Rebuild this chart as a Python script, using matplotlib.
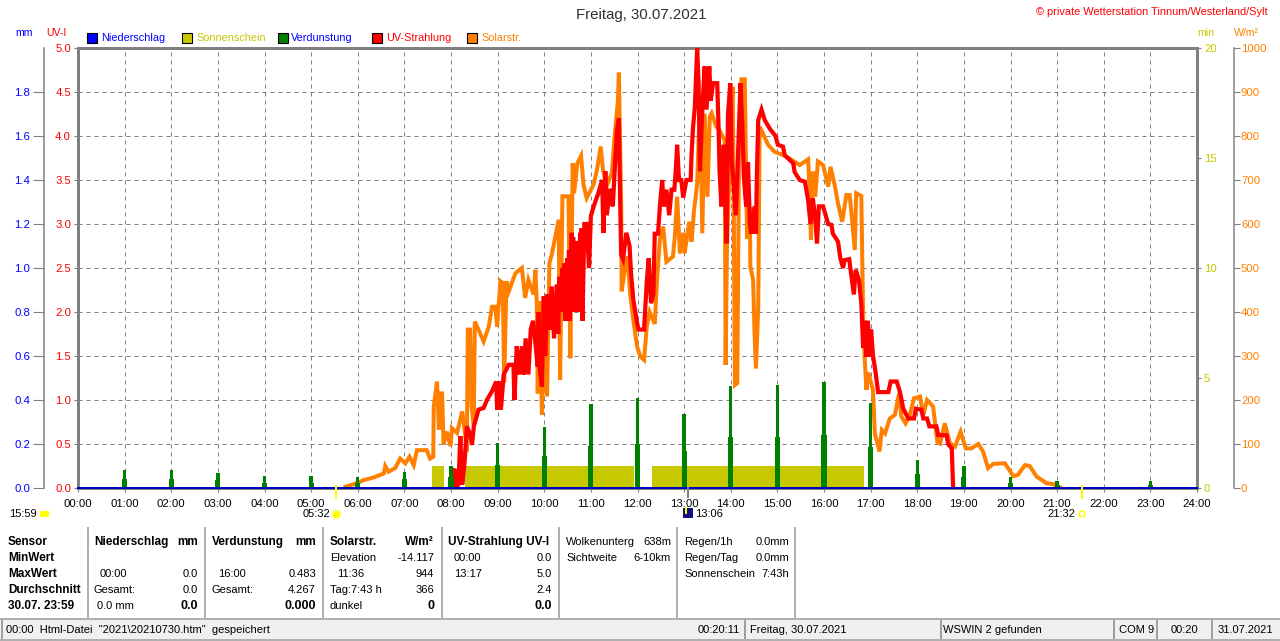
#!/usr/bin/env python
"""Wetterstation Tagesgrafik 30.07.2021"""

import matplotlib
matplotlib.use('Agg')
import matplotlib.pyplot as plt
from matplotlib.patches import Rectangle

plt.rcParams['font.family'] = ['Liberation Sans', 'DejaVu Sans']
plt.rcParams['font.size'] = 8

# time in decimal hours
solar_h = [5.74, 5.95, 6.13, 6.34, 6.56, 6.59, 6.66, 6.80, 6.91, 7.02, 7.11, 7.20, 7.27, 7.48, 7.55, 7.62,
           7.63, 7.70, 7.74, 7.77, 7.81, 7.84, 7.91, 7.99, 8.02, 8.13, 8.24, 8.29, 8.34, 8.36, 8.41, 8.44,
           8.49, 8.51, 8.56, 8.70, 8.81, 8.88, 8.95, 8.99, 9.06, 9.11, 9.14, 9.19, 9.24, 9.38, 9.52, 9.59,
           9.66, 9.77, 9.81, 9.84, 9.86, 9.90, 9.95, 9.99, 10.06, 10.11, 10.16, 10.24, 10.31, 10.34, 10.39,
           10.52, 10.56, 10.61, 10.64, 10.71, 10.79, 10.84, 10.91, 11.06, 11.13, 11.21, 11.26, 11.34, 11.45,
           11.51, 11.58, 11.60, 11.65, 11.66, 11.74, 11.79, 11.84, 11.91, 11.99, 12.06, 12.14, 12.20, 12.26,
           12.37, 12.42, 12.48, 12.55, 12.62, 12.76, 12.80, 12.85, 12.91, 12.98, 13.01, 13.11, 13.16, 13.21,
           13.28, 13.34, 13.39, 13.44, 13.50, 13.55, 13.59, 13.69, 13.76, 13.87, 13.89, 13.92, 13.98, 14.04,
           14.06, 14.09, 14.14, 14.18, 14.23, 14.30, 14.34, 14.35, 14.41, 14.42, 14.48, 14.51, 14.54, 14.59,
           14.62, 14.69, 14.80, 14.94, 15.12, 15.26, 15.48, 15.66, 15.69, 15.72, 15.76, 15.81, 15.87, 15.98,
           16.09, 16.14, 16.23, 16.30, 16.39, 16.48, 16.55, 16.59, 16.66, 16.69, 16.80, 16.82, 16.84, 16.87,
           16.91, 16.95, 17.05, 17.09, 17.19, 17.24, 17.31, 17.41, 17.52, 17.61, 17.66, 17.75, 17.84, 17.93,
           18.06, 18.13, 18.21, 18.34, 18.43, 18.49, 18.59, 18.70, 18.81, 18.93, 19.04, 19.16, 19.31, 19.41,
           19.52, 19.63, 19.88, 20.06, 20.16, 20.31, 20.41, 20.56, 20.77, 20.91, 21.09]
solar_w = [3, 10, 18, 24, 33, 50, 37, 45, 67, 56, 71, 52, 86, 86, 67, 71,
           185, 242, 133, 215, 215, 99, 128, 95, 136, 125, 174, 133, 83, 360, 360, 185,
           140, 378, 367, 333, 367, 412, 412, 367, 470, 466, 240, 470, 447, 488, 500, 432,
           473, 440, 496, 420, 215, 424, 167, 340, 208, 511, 530, 572, 610, 246, 663,
           663, 295, 738, 670, 738, 755, 690, 659, 690, 723, 776, 723, 686, 716,
           800, 880, 944, 640, 447, 504, 526, 443, 382, 322, 299, 291, 367, 400,
           373, 476, 564, 594, 514, 526, 571, 662, 533, 580, 533, 605, 560, 628,
           692, 882, 579, 851, 662, 844, 852, 821, 813, 790, 280, 550, 738, 912,
           715, 234, 238, 799, 929, 929, 639, 567, 639, 503, 473, 351, 272, 412,
           821, 806, 780, 764, 757, 749, 734, 747, 677, 564, 719, 662, 742, 734,
           685, 730, 688, 647, 605, 666, 666, 624, 541, 670, 664, 533, 389, 300,
           223, 262, 223, 124, 83, 132, 124, 158, 166, 215, 162, 147, 166, 204,
           208, 166, 200, 185, 105, 101, 147, 102, 94, 128, 90, 90, 100, 83,
           45, 55, 56, 27, 30, 52, 50, 26, 11, 9, 0]

uv_h = [8.02, 8.08, 8.09, 8.16, 8.20, 8.24, 8.29, 8.34, 8.41, 8.45, 8.49, 8.59, 8.70, 8.77, 8.88, 8.97, 8.99,
        9.04, 9.07, 9.13, 9.24, 9.34, 9.36, 9.41, 9.46, 9.52, 9.56, 9.60, 9.66, 9.71, 9.76, 9.81, 9.86, 9.88,
        9.90, 9.95, 9.99, 10.02, 10.07, 10.11, 10.16, 10.21, 10.27, 10.30, 10.32, 10.34, 10.39, 10.42, 10.43,
        10.45, 10.49, 10.52, 10.53, 10.54, 10.59, 10.61, 10.62,
        10.63, 10.69, 10.70, 10.71, 10.72, 10.77, 10.79, 10.80, 10.82, 10.86, 10.91, 10.96, 11.00, 11.06, 11.16,
        11.24, 11.27, 11.31, 11.34,
        11.41, 11.47, 11.52, 11.56, 11.60, 11.63, 11.65, 11.69, 11.76, 11.83, 11.86, 11.91, 11.99, 12.02, 12.14,
        12.20, 12.24, 12.29, 12.34, 12.37, 12.44, 12.48, 12.53, 12.56, 12.62, 12.68, 12.73, 12.79, 12.82, 12.85,
        12.89, 12.94, 12.98, 13.05, 13.14, 13.16, 13.19, 13.23, 13.28, 13.31, 13.34, 13.39, 13.44, 13.48, 13.54,
        13.57, 13.62, 13.71, 13.74, 13.76, 13.80, 13.85, 13.91, 13.94, 13.99, 14.02, 14.05, 14.11, 14.16, 14.21,
        14.25, 14.28, 14.33, 14.37, 14.41, 14.44, 14.51, 14.54, 14.56, 14.59, 14.66, 14.73, 14.84, 14.96, 15.01,
        15.12, 15.16, 15.34, 15.37, 15.48, 15.59, 15.66, 15.71, 15.76, 15.81, 15.85, 15.89, 15.98, 16.09, 16.16,
        16.19, 16.30, 16.35, 16.41, 16.44, 16.54, 16.59, 16.64, 16.68, 16.75, 16.80, 16.84, 16.87, 16.91, 16.94,
        16.99, 17.01, 17.05, 17.11, 17.16, 17.38, 17.43, 17.56, 17.63, 17.70, 17.81, 17.93, 17.97, 18.09, 18.13,
        18.21, 18.26, 18.41, 18.45, 18.63, 18.66, 18.74, 18.77]
uv_i = [0.21, 0.20, 0.0, 0.04, 0.59, 0.04, 0.28, 0.70, 0.61, 0.49, 0.70, 0.89, 0.91, 1.0, 1.10, 1.21, 0.89,
        1.21, 0.89, 1.29, 1.40, 1.40, 1.0, 1.61, 1.29, 1.61, 1.29, 1.70, 1.29, 1.80, 1.90, 1.65, 1.38, 2.0,
        1.38, 1.15, 2.18, 1.5, 2.2, 1.8, 2.29, 1.7, 2.31, 1.75, 2.4, 2.0, 2.5, 2.0, 2.55,
        1.9, 2.61, 2.0, 2.7, 1.9, 2.9, 2.1, 2.85,
        2.0, 2.8, 2.1, 2.8, 2.0, 2.9, 2.1, 2.95, 1.9, 3.0, 3.0, 2.5, 3.09, 3.2, 3.35,
        3.5, 2.9, 3.6, 3.1,
        3.4, 3.2, 3.7, 4.07, 4.2, 3.2, 2.65, 2.6, 2.9, 2.75, 2.45, 2.14, 1.88, 1.8, 1.8,
        2.35, 2.61, 2.1, 2.2, 2.89, 2.89, 3.2, 3.5, 3.2, 3.39, 3.1, 3.39, 3.39, 3.6, 3.9,
        3.5, 3.5, 3.3, 3.5, 3.5, 3.8, 4.09, 4.33, 5.0, 4.6, 3.6, 4.3, 4.79, 4.3, 4.79,
        4.4, 4.6, 4.6, 4.07, 3.6, 3.2, 3.9, 2.78, 4.24, 4.6, 3.7, 3.54, 3.1, 3.84, 4.6,
        4.1, 3.54, 3.2, 3.7, 3.0, 2.89, 3.2, 2.89, 3.56, 4.18, 4.3, 4.18, 4.08, 4.0, 3.9,
        3.88, 3.78, 3.69, 3.59, 3.5, 3.48, 3.27, 3.0, 3.29, 3.08, 2.78, 3.2, 3.2, 3.0, 2.99,
        2.89, 2.8, 2.61, 2.5, 2.59, 2.6, 2.4, 2.2, 2.48, 2.36, 2.1, 1.59, 1.9, 1.49, 1.9,
        1.49, 1.8, 1.51, 1.3, 1.09, 1.09, 1.21, 1.21, 1.09, 0.9, 0.79, 0.79, 0.9, 0.89, 0.79,
        0.79, 0.7, 0.7, 0.6, 0.6, 0.5, 0.45, 0.0]

evap_h = [1, 2, 3, 4, 5, 6, 7, 8, 9, 10, 11, 12, 13, 14, 15, 16, 17, 18, 19, 20, 21, 23]
evap_top = [0.08, 0.08, 0.07, 0.055, 0.055, 0.05, 0.075, 0.10, 0.205, 0.277, 0.38, 0.41,
            0.336, 0.464, 0.469, 0.483, 0.385, 0.127, 0.10, 0.05, 0.03, 0.03]
evap_base = [0.04, 0.04, 0.035, 0.025, 0.025, 0.025, 0.04, 0.05, 0.106, 0.144, 0.19, 0.20,
             0.17, 0.23, 0.23, 0.24, 0.188, 0.062, 0.05, 0.024, 0.015, 0.015]

sun_start = [7.6, 8.31, 12.31, 16.94]
sun_end = [7.86, 11.93, 16.86, 16.97]
sun_min = [1, 1, 1, 1]

rain_h = [0, 24]
rain_mm = [0.0, 0.0]

hour_labels = ['%02d:00' % h for h in range(25)]
uv_ticks = [0.0, 0.5, 1.0, 1.5, 2.0, 2.5, 3.0, 3.5, 4.0, 4.5, 5.0]
mm_ticks = [0.0, 0.2, 0.4, 0.6, 0.8, 1.0, 1.2, 1.4, 1.6, 1.8]
min_ticks = [0, 5, 10, 15, 20]
w_ticks = [0, 100, 200, 300, 400, 500, 600, 700, 800, 900, 1000]

GRAY = '#808080'
BLUE = '#0000ff'
RED = '#ff0000'
OLIVE = '#c8c800'
GREEN = '#008000'
ORANGE = '#ff8000'
PX = 72 / 100.0

fig = plt.figure(figsize=(12.8, 6.41), dpi=100, facecolor='white')
rect = [78 / 1280, 1 - 488 / 641, (1197 - 78) / 1280, 440 / 641]

# lowest axes carries the grid and the UV-I scale
ax = fig.add_axes(rect, zorder=0)
ax.set_xlim(0, 24)
ax.set_ylim(0, 5)
ax.set_xticks(range(25))
ax.set_xticklabels(hour_labels)
ax.set_yticks(uv_ticks)
ax.set_yticklabels(['%.1f' % v for v in uv_ticks])
ax.grid(True, color=GRAY, linestyle=(0, (4, 4)), linewidth=1 * PX)
ax.tick_params(axis='x', length=3, width=0.8, color=GRAY, pad=5, labelsize=8.2, labelcolor='black')
ax.tick_params(axis='y', length=3, width=0.8, color=GRAY, pad=2, labelsize=8.2, labelcolor=RED)
for s in ax.spines.values():
    s.set_color(GRAY)
    s.set_linewidth(3 * PX)


def overlay(z):
    a = fig.add_axes(rect, zorder=z, sharex=ax)
    a.patch.set_visible(False)
    a.xaxis.set_visible(False)
    a.yaxis.set_visible(False)
    for s in a.spines.values():
        s.set_visible(False)
    return a


ax_min = overlay(1)
ax_min.set_ylim(0, 20)
ax_min.yaxis.set_visible(True)
ax_min.yaxis.tick_right()
ax_min.set_yticks(min_ticks)
ax_min.tick_params(axis='y', length=3, width=0.8, color=GRAY, pad=2, labelsize=8.2, labelcolor=OLIVE)
ax_min.bar(sun_start, sun_min, width=[e - s for s, e in zip(sun_start, sun_end)],
           align='edge', color=OLIVE, linewidth=0)

ax_w = overlay(2)
ax_w.set_ylim(0, 1000)
ax_w.yaxis.set_visible(True)
ax_w.yaxis.tick_right()
ax_w.set_yticks(w_ticks)
ax_w.tick_params(axis='y', length=4, width=0.8, color=GRAY, pad=1, labelsize=8.2, labelcolor=ORANGE)
ax_w.spines['right'].set_visible(True)
ax_w.spines['right'].set_position(('outward', 37 * PX))
ax_w.spines['right'].set_color(GRAY)
ax_w.spines['right'].set_linewidth(1.5 * PX)
ax_w.plot(solar_h, solar_w, color=ORANGE, linewidth=4 * PX, solid_joinstyle='miter')

ax_uv = overlay(3)
ax_uv.set_ylim(0, 5)
ax_uv.plot(uv_h, uv_i, color=RED, linewidth=4.2 * PX, solid_joinstyle='miter')

ax_mm = overlay(4)
ax_mm.set_ylim(0, 2)
ax_mm.yaxis.set_visible(True)
ax_mm.yaxis.tick_left()
ax_mm.set_yticks(mm_ticks)
ax_mm.set_yticklabels(['%.1f' % v for v in mm_ticks])
ax_mm.tick_params(axis='y', length=8, width=0.8, color=GRAY, pad=2, labelsize=8.2, labelcolor=BLUE)
ax_mm.spines['left'].set_visible(True)
ax_mm.spines['left'].set_position(('outward', 34 * PX))
ax_mm.spines['left'].set_color(GRAY)
ax_mm.spines['left'].set_linewidth(1.5 * PX)
ax_mm.bar(evap_h, evap_top, width=0.075, color=GREEN, linewidth=0)
ax_mm.bar(evap_h, evap_base, width=0.11, color=GREEN, linewidth=0)
ax_mm.plot(rain_h, rain_mm, color='#0000c0', linewidth=2 * PX, clip_on=False)

# pixel overlay for everything around the plot
panel = fig.add_axes([0, 0, 1, 1], zorder=5)
panel.set_xlim(0, 1280)
panel.set_ylim(641, 0)
panel.axis('off')


def txt(x, y, s, color='black', ha='left', size=8, weight='normal'):
    panel.text(x, y, s, color=color, ha=ha, va='center', fontsize=size, fontweight=weight)


txt(641, 15, 'Freitag, 30.07.2021', ha='center', size=10.8, color='#303030')
txt(1268, 12, '© private Wetterstation Tinnum/Westerland/Sylt', color=RED, ha='right', size=7.9)

for x, s, c in [(15, 'mm', BLUE), (46, 'UV-I', RED), (1197, 'min', OLIVE), (1234, 'W/m²', ORANGE)]:
    txt(x, 33, s, color=c, size=7.6)

legend_items = [(87, 101, 'Niederschlag', BLUE, BLUE), (182, 196, 'Sonnenschein', OLIVE, OLIVE),
                (278, 291, 'Verdunstung', GREEN, BLUE), (372, 386, 'UV-Strahlung', RED, RED),
                (467, 481, 'Solarstr.', ORANGE, ORANGE)]
for bx, tx, s, box, c in legend_items:
    panel.add_patch(Rectangle((bx, 33), 10, 10, facecolor=box, edgecolor='black', linewidth=0.8))
    txt(tx, 38, s, color=c, size=7.8)

# sunrise, sunset, culmination
panel.plot([336, 336], [486, 498], color='#ffff00', linewidth=2 * PX)
panel.plot([1082, 1082], [486, 498], color='#ffff00', linewidth=2 * PX)
panel.plot([688, 688], [488, 497], color=GRAY, linewidth=2 * PX)
txt(37, 514, '15:59', ha='right')
panel.add_patch(Rectangle((40, 511), 9, 6, facecolor='#ffff00', edgecolor='none'))
txt(330, 514, '05:32', ha='right')
panel.plot([336], [514], marker='o', markersize=6, color='#ffff00', markeredgecolor='#ffff80')
txt(1075, 514, '21:32', ha='right')
panel.add_patch(Rectangle((1079, 511), 5, 5, facecolor='white', edgecolor='#ffff00', linewidth=1))
panel.add_patch(Rectangle((683, 508), 10, 10, facecolor='#101080', edgecolor='none'))
panel.plot([686, 686], [508, 513], color='#ffff00', linewidth=2 * PX)
txt(695, 514, '13:06')

# sensor table
for x in [88, 205, 323, 442, 559, 677, 795]:
    panel.plot([x, x], [528, 617], color='#b0b0b0', linewidth=2 * PX)

BOLD = 8.5
rows = [542, 558, 574, 590, 606]
for y, s in zip(rows, ['Sensor', 'MinWert', 'MaxWert', 'Durchschnitt', '30.07. 23:59']):
    txt(8, y, s, weight='bold', size=BOLD)

txt(94, rows[0], 'Niederschlag', weight='bold', size=BOLD)
txt(198, rows[0], 'mm', ha='right', weight='bold', size=BOLD)
txt(100, rows[2], '00:00')
txt(198, rows[2], '0.0', ha='right')
txt(94, rows[3], 'Gesamt:')
txt(198, rows[3], '0.0', ha='right')
txt(97, rows[4], '0.0 mm')
txt(198, rows[4], '0.0', ha='right', weight='bold', size=9)

txt(212, rows[0], 'Verdunstung', weight='bold', size=BOLD)
txt(316, rows[0], 'mm', ha='right', weight='bold', size=BOLD)
txt(218, rows[2], '16:00')
txt(316, rows[2], '0.483', ha='right')
txt(212, rows[3], 'Gesamt:')
txt(316, rows[3], '4.267', ha='right')
txt(316, rows[4], '0.000', ha='right', weight='bold', size=9)

txt(330, rows[0], 'Solarstr.', weight='bold', size=BOLD)
txt(434, rows[0], 'W/m²', ha='right', weight='bold', size=BOLD)
txt(330, rows[1], 'Elevation')
txt(434, rows[1], '-14.117', ha='right')
txt(337, rows[2], '11:36')
txt(434, rows[2], '944', ha='right')
txt(330, rows[3], 'Tag:7:43 h')
txt(434, rows[3], '366', ha='right')
txt(330, rows[4], 'dunkel')
txt(434, rows[4], '0', ha='right', weight='bold', size=9)

txt(448, rows[0], 'UV-Strahlung UV-I', weight='bold', size=BOLD)
txt(454, rows[1], '00:00')
txt(552, rows[1], '0.0', ha='right')
txt(454, rows[2], '13:17')
txt(552, rows[2], '5.0', ha='right')
txt(552, rows[3], '2.4', ha='right')
txt(552, rows[4], '0.0', ha='right', weight='bold', size=9)

txt(566, rows[0], 'Wolkenunterg')
txt(671, rows[0], '638m', ha='right')
txt(566, rows[1], 'Sichtweite')
txt(671, rows[1], '6-10km', ha='right')

txt(684, rows[0], 'Regen/1h')
txt(789, rows[0], '0.0mm', ha='right')
txt(684, rows[1], 'Regen/Tag')
txt(789, rows[1], '0.0mm', ha='right')
txt(684, rows[2], 'Sonnenschein')
txt(789, rows[2], '7:43h', ha='right')

# status bar
panel.add_patch(Rectangle((0, 619), 1280, 21, facecolor='#f0f0f0', edgecolor='none'))
panel.plot([0, 1280], [619, 619], color='#b0b0b0', linewidth=2 * PX)
panel.plot([0, 1280], [640, 640], color='#b0b0b0', linewidth=2 * PX)
for x in [2, 745, 941, 1114, 1157, 1212]:
    panel.plot([x, x], [620, 638], color='#a0a0a0', linewidth=2 * PX)
txt(6, 630, '00:00  Html-Datei  "2021\\20210730.htm"  gespeichert')
txt(740, 630, '00:20:11', ha='right')
txt(750, 630, 'Freitag, 30.07.2021')
txt(943, 630, 'WSWIN 2 gefunden')
txt(1119, 630, 'COM 9')
txt(1171, 630, '00:20')
txt(1218, 630, '31.07.2021')

fig.savefig('out.png', dpi=100, facecolor='white')
plt.close(fig)
